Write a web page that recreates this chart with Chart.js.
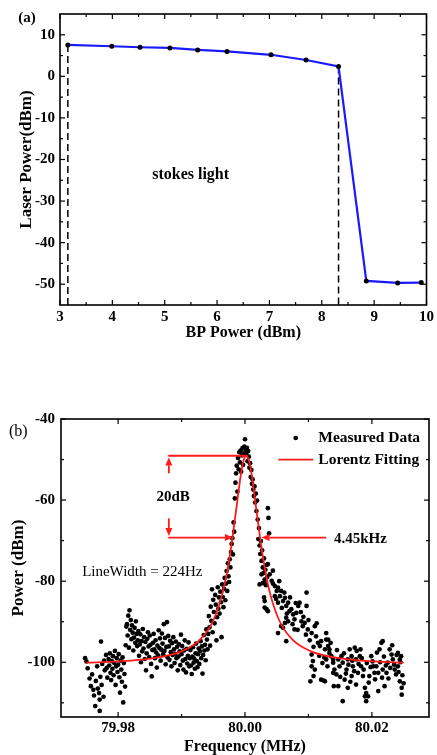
<!DOCTYPE html>
<html>
<head>
<meta charset="utf-8">
<script src="https://cdn.jsdelivr.net/npm/chart.js@4.4.0/dist/chart.umd.min.js"></script>
<style>
  html, body { margin: 0; padding: 0; background: #fff; }
  body { width: 437px; height: 755px; position: relative; overflow: hidden; }
  canvas { position: absolute; left: 0; }
  #graficoA { top: 0; }
  #graficoB { top: 380px; }
</style>
</head>
<body>
<canvas id="graficoA" width="437" height="345"></canvas>
<canvas id="graficoB" width="437" height="375"></canvas>
<script>
// ---------- dados painel (a)
const bpPower = [3.15, 3.99, 4.53, 5.10, 5.63, 6.19, 7.03, 7.70, 8.32, 8.85, 9.45, 9.90];
const laserPower = [7.55, 7.24, 7.0, 6.84, 6.37, 5.99, 5.19, 3.94, 2.36, -49.2, -49.7, -49.6];
const limiares = [3.15, 8.32]; // linhas tracejadas
const ticksXa = [3, 4, 5, 6, 7, 8, 9, 10];
const ticksYa = [10, 0, -10, -20, -30, -40, -50];
const minorXa = [3.5, 4.5, 5.5, 6.5, 7.5, 8.5, 9.5];
const minorYa = [5, -5, -15, -25, -35, -45];

// ---------- dados painel (b)
const ticksXb = [79.98, 80.00, 80.02];
const ticksYb = [-40, -60, -80, -100];
const minorXb = [79.99, 80.01];
const minorYb = [-50, -70, -90, -110];

// curva de Lorentz
const fitFreq = [79.975, 79.980, 79.985, 79.990, 79.993, 79.995, 79.9965, 79.9975, 79.9985, 79.9993, 79.9997,
  80.0002, 80.0007, 80.0011, 80.0019, 80.0029, 80.0039, 80.0054, 80.0074, 80.0104, 80.0154, 80.0204, 80.025];
const fitPot = [-100.1, -99.8, -99.1, -97.3, -94.3, -89.7, -82.7, -74.8, -63.7, -54.2, -50.7,
  -49.0, -50.7, -54.2, -63.7, -74.8, -82.7, -89.7, -94.3, -97.3, -99.1, -99.8, -100.1];

// pontos medidos [freq (MHz), potência (dBm)]
const pontosMedidos = [
  [79.9748,-99.0],[79.9750,-99.8],[79.9752,-101.5],[79.9755,-104.0],[79.9757,-105.9],[79.9759,-103.0],
  [79.9761,-106.8],[79.9762,-108.2],[79.9764,-110.8],[79.9765,-104.6],[79.9767,-101.0],[79.9768,-106.5],
  [79.9770,-107.6],[79.9771,-112.0],[79.9772,-103.6],[79.9773,-94.9],[79.9774,-105.6],[79.9775,-100.4],
  [79.9777,-108.5],[79.9778,-99.6],[79.9779,-102.0],[79.9771,-109.2],
  [79.9781,-98.2],[79.9782,-101.4],[79.9783,-103.8],[79.9785,-99.2],[79.9786,-100.8],[79.9787,-97.8],
  [79.9788,-102.6],[79.9789,-104.4],[79.9790,-99.7],[79.9791,-101.6],[79.9792,-98.5],[79.9793,-103.2],
  [79.9794,-100.2],[79.9795,-97.2],[79.9796,-105.6],[79.9797,-101.0],[79.9798,-99.0],[79.9799,-102.4],
  [79.9800,-100.6],[79.9801,-98.0],[79.9802,-103.7],[79.9803,-107.5],[79.9804,-99.6],[79.9805,-101.8],
  [79.9806,-104.8],[79.9807,-98.8],[79.9808,-109.9],[79.9809,-100.2],[79.9810,-102.9],[79.9811,-106.0],
  [79.9812,-95.8],[79.9813,-91.2],[79.9814,-90.6],[79.9815,-93.4],[79.9816,-88.5],[79.9817,-96.4],
  [79.9818,-87.2],[79.9819,-92.0],[79.9820,-89.6],[79.9821,-94.3],[79.9822,-90.9],[79.9823,-92.7],
  [79.9824,-97.1],[79.9825,-93.9],[79.9826,-91.5],[79.9827,-95.2],[79.9828,-89.9],[79.9829,-93.0],
  [79.9830,-96.0],[79.9831,-94.6],[79.9832,-92.3],[79.9833,-98.4],[79.9834,-95.6],[79.9835,-93.1],
  [79.9836,-100.0],[79.9837,-94.8],[79.9838,-97.3],[79.9839,-91.8],[79.9840,-96.6],[79.9841,-93.8],
  [79.9842,-99.2],[79.9843,-95.0],[79.9844,-102.0],[79.9845,-97.8],[79.9846,-94.2],[79.9847,-92.6],
  [79.9848,-96.1],[79.9849,-98.7],[79.9850,-93.4],[79.9851,-95.7],[79.9852,-100.4],[79.9853,-103.5],
  [79.9854,-97.0],[79.9855,-95.2],[79.9856,-93.0],[79.9857,-96.8],[79.9858,-99.0],[79.9859,-94.6],
  [79.9860,-97.6],[79.9861,-101.3],[79.9862,-95.9],[79.9863,-98.3],[79.9864,-92.1],[79.9865,-96.5],
  [79.9866,-94.1],[79.9867,-99.6],[79.9868,-96.9],[79.9869,-92.9],[79.9870,-95.4],[79.9871,-98.0],
  [79.9872,-90.6],[79.9873,-97.2],[79.9874,-94.0],[79.9875,-100.5],[79.9876,-96.2],[79.9877,-90.1],
  [79.9878,-98.8],[79.9879,-93.5],
  [79.9880,-96.1],[79.9881,-99.4],[79.9882,-94.7],[79.9883,-97.5],[79.9884,-101.0],[79.9885,-95.3],
  [79.9886,-98.2],[79.9887,-93.8],[79.9888,-96.8],[79.9889,-100.2],[79.9890,-97.9],[79.9891,-94.9],
  [79.9892,-99.0],[79.9893,-96.2],[79.9894,-102.0],[79.9895,-98.6],[79.9896,-95.6],[79.9897,-97.3],
  [79.9898,-100.7],[79.9899,-93.2],[79.9900,-98.0],[79.9901,-96.0],[79.9902,-99.6],[79.9903,-101.8],
  [79.9904,-97.1],[79.9905,-94.6],[79.9906,-99.2],[79.9907,-102.5],[79.9908,-96.7],[79.9909,-100.3],
  [79.9910,-98.4],[79.9911,-95.1],[79.9912,-101.0],[79.9913,-99.0],[79.9914,-97.0],[79.9915,-100.8],
  [79.9916,-102.9],[79.9917,-98.6],[79.9918,-96.3],[79.9919,-100.1],[79.9920,-99.1],[79.9921,-101.6],
  [79.9922,-97.8],[79.9923,-95.4],[79.9924,-99.7],[79.9925,-101.2],[79.9926,-98.0],[79.9927,-96.6],
  [79.9928,-100.4],[79.9929,-97.3],[79.9930,-94.8],[79.9931,-99.0],[79.9932,-96.1],[79.9933,-102.8],
  [79.9934,-98.2],[79.9935,-93.3],[79.9936,-97.1],[79.9937,-95.7],[79.9938,-99.5],[79.9939,-91.9],
  [79.9940,-94.4],[79.9941,-96.8],
  [79.9942,-93.0],[79.9943,-88.6],[79.9944,-91.4],[79.9945,-95.9],[79.9946,-86.3],[79.9947,-89.8],
  [79.9948,-82.0],[79.9949,-92.6],[79.9950,-84.6],[79.9951,-87.6],[79.9952,-90.4],[79.9953,-83.4],
  [79.9954,-85.8],[79.9955,-94.6],[79.9956,-88.9],[79.9957,-81.5],[79.9958,-86.8],[79.9959,-84.0],
  [79.9960,-88.0],[79.9961,-82.6],[79.9962,-85.2],[79.9963,-93.8],[79.9964,-80.8],[79.9965,-83.9],
  [79.9966,-86.4],[79.9967,-81.9],[79.9968,-79.2],[79.9969,-84.7],[79.9970,-80.6],[79.9971,-77.5],
  [79.9972,-82.4],[79.9973,-75.6],
  [79.9974,-78.8],[79.9975,-80.2],[79.9976,-74.6],[79.9977,-76.6],[79.9978,-72.8],[79.9979,-70.8],
  [79.9980,-69.4],[79.9981,-73.4],[79.9982,-65.5],[79.9983,-67.8],
  [79.9984,-59.6],[79.9985,-55.7],[79.9986,-53.4],[79.9987,-51.5],[79.9988,-57.9],[79.9989,-49.6],
  [79.9990,-52.4],[79.9991,-48.2],[79.9992,-50.7],[79.9993,-47.8],[79.9994,-53.0],[79.9995,-49.0],
  [79.9996,-47.2],[79.9997,-51.3],[79.9998,-48.5],[79.9999,-46.8],[80.0000,-45.0],[80.0001,-47.6],
  [80.0002,-48.6],[80.0003,-47.1],[80.0004,-50.4],[80.0005,-47.9],[80.0006,-49.3],[80.0007,-52.0],
  [80.0008,-50.9],[80.0009,-54.3],[80.0010,-52.6],[80.0011,-56.0],[80.0012,-54.9],[80.0013,-57.4],
  [80.0014,-59.0],[80.0015,-56.6],[80.0016,-60.6],[80.0017,-58.4],[80.0018,-62.7],[80.0019,-60.1],
  [80.0020,-64.8],[80.0021,-69.6],[80.0022,-66.9],[80.0023,-71.2],[80.0024,-73.3],[80.0025,-70.1],
  [80.0026,-75.0],[80.0027,-72.4],[80.0028,-76.6],[80.0029,-78.0],[80.0030,-74.4],[80.0031,-79.6],
  [80.0032,-77.2],[80.0033,-81.0],[80.0034,-76.0],[80.0036,-62.0],[80.0037,-64.4],[80.0038,-68.2],
  [80.0035,-79.0],
  [80.0023,-80.8],[80.0026,-78.3],[80.0031,-80.4],[80.0036,-75.8],[80.0039,-78.3],[80.0042,-79.9],
  [80.0047,-81.2],[80.0050,-82.4],[80.0052,-81.6],[80.0055,-83.7],[80.0057,-82.4],[80.0060,-84.9],
  [80.0063,-84.1],[80.0065,-86.1],[80.0068,-85.3],[80.0070,-87.4],[80.0073,-86.9],[80.0076,-88.2],
  [80.0078,-89.4],[80.0081,-87.8],[80.0084,-86.1],[80.0086,-85.3],[80.0089,-89.9],[80.0091,-91.1],
  [80.0094,-90.3],[80.0097,-82.8],[80.0097,-86.1],[80.0099,-91.9],[80.0105,-92.8],[80.0110,-91.1],
  [80.0112,-93.6],[80.0115,-95.2],[80.0118,-96.0],[80.0120,-94.8],[80.0126,-96.8],[80.0128,-94.4],
  [80.0131,-96.0],[80.0133,-97.7],[80.0136,-98.5],[80.0139,-99.3],[80.0105,-98.1],[80.0107,-99.7],
  [80.0110,-101.8],[80.0105,-101.0],[80.0120,-104.3],[80.0124,-104.5],[80.0139,-102.6],[80.0140,-105.9],
  [80.0031,-84.9],[80.0034,-86.9],[80.0036,-87.4],[80.0057,-91.1],[80.0060,-91.5],[80.0068,-89.9],
  [80.0065,-89.0],[80.0078,-91.9],[80.0063,-90.3],[80.0047,-83.7],[80.0052,-85.3],
  [80.0044,-80.6],[80.0049,-84.4],[80.0054,-80.0],[80.0058,-86.6],[80.0062,-82.8],[80.0066,-88.0],
  [80.0071,-84.0],[80.0075,-90.6],[80.0080,-85.4],[80.0083,-92.0],[80.0088,-87.6],[80.0092,-88.8],
  [80.0096,-93.2],[80.0100,-89.6],[80.0102,-94.6],[80.0108,-96.2],[80.0113,-90.4],[80.0117,-98.4],
  [80.0122,-100.2],[80.0125,-98.8],[80.0130,-101.0],[80.0135,-95.2],[80.0103,-104.7],[80.0108,-103.4],
  [80.0028,-80.5],[80.0030,-84.0],[80.0031,-86.5],[80.0044,-77.4],[80.0052,-92.8],[80.0065,-94.8],
  [80.0128,-92.8],[80.0131,-94.4],[80.0133,-96.8],[80.0128,-99.3],[80.0126,-104.7],[80.0136,-98.5],
  [80.0139,-100.1],[80.0141,-101.8],[80.0144,-103.0],[80.0147,-99.3],[80.0149,-101.0],[80.0147,-105.9],
  [80.0152,-98.5],[80.0154,-100.1],[80.0154,-109.6],[80.0157,-104.3],[80.0160,-101.8],[80.0162,-99.3],
  [80.0162,-106.3],[80.0165,-96.8],[80.0168,-98.5],[80.0170,-101.0],[80.0168,-103.4],[80.0173,-96.4],
  [80.0175,-99.3],[80.0175,-105.5],[80.0178,-102.6],[80.0181,-98.5],[80.0182,-96.8],[80.0183,-101.0],
  [80.0186,-103.4],[80.0189,-106.3],[80.0189,-108.4],[80.0191,-107.6],[80.0191,-109.6],[80.0194,-108.4],
  [80.0196,-103.4],[80.0199,-98.5],[80.0202,-101.0],[80.0204,-102.6],[80.0207,-101.0],[80.0210,-107.1],
  [80.0210,-102.6],[80.0212,-96.8],[80.0215,-95.2],[80.0217,-94.8],[80.0217,-101.8],[80.0220,-105.9],
  [80.0223,-102.6],[80.0225,-100.1],[80.0228,-96.8],[80.0231,-98.1],[80.0233,-99.3],[80.0236,-101.8],
  [80.0238,-103.0],[80.0241,-97.7],[80.0244,-99.3],[80.0244,-104.7],[80.0246,-98.5],[80.0247,-106.3],
  [80.0247,-108.0],[80.0241,-101.0],
  [80.0145,-97.0],[80.0150,-103.6],[80.0156,-97.8],[80.0159,-102.8],[80.0163,-100.6],[80.0166,-104.8],
  [80.0169,-99.6],[80.0172,-102.2],[80.0176,-97.2],[80.0179,-100.4],[80.0184,-99.0],[80.0187,-101.8],
  [80.0192,-100.2],[80.0195,-105.0],[80.0198,-101.2],[80.0201,-99.8],[80.0205,-104.2],[80.0208,-97.6],
  [80.0213,-100.0],[80.0216,-103.8],[80.0219,-98.6],[80.0222,-100.8],[80.0226,-104.0],[80.0229,-101.4],
  [80.0232,-95.8],[80.0235,-100.6],[80.0239,-98.2],[80.0242,-102.4],[80.0245,-100.0],[80.0248,-103.2],
  [80.0250,-105.2]
];

const FONTE = "Liberation Serif";
Chart.defaults.font.family = FONTE;
Chart.defaults.color = "#000";

// moldura com ticks para dentro nos 4 lados
function moldura(chart, menorX, menorY) {
  const { ctx, chartArea: a, scales: { x, y } } = chart;
  ctx.save();
  ctx.strokeStyle = "#000";
  ctx.lineWidth = 1.2;
  const linha = (x0, y0, x1, y1) => { ctx.beginPath(); ctx.moveTo(x0, y0); ctx.lineTo(x1, y1); ctx.stroke(); };
  const marcaX = (v, len) => {
    const px = x.getPixelForValue(v);
    linha(px, a.bottom, px, a.bottom - len);
    linha(px, a.top, px, a.top + len);
  };
  const marcaY = (v, len) => {
    const py = y.getPixelForValue(v);
    linha(a.left, py, a.left + len, py);
    linha(a.right, py, a.right - len, py);
  };
  x.ticks.forEach(t => marcaX(t.value, 5));
  y.ticks.forEach(t => marcaY(t.value, 5));
  menorX.forEach(v => marcaX(v, 3));
  menorY.forEach(v => marcaY(v, 3));
  ctx.lineWidth = 1.6;
  ctx.strokeRect(a.left, a.top, a.width, a.height);
  ctx.restore();
}

function seta(ctx, x0, y0, x1, y1) {
  const ang = Math.atan2(y1 - y0, x1 - x0);
  const L = 8, W = 3.5;
  const c = Math.cos(ang), s = Math.sin(ang);
  ctx.beginPath(); ctx.moveTo(x0, y0); ctx.lineTo(x1 - L * c, y1 - L * s); ctx.stroke();
  ctx.beginPath();
  ctx.moveTo(x1, y1);
  ctx.lineTo(x1 - L * c + W * s, y1 - L * s - W * c);
  ctx.lineTo(x1 - L * c - W * s, y1 - L * s + W * c);
  ctx.closePath(); ctx.fill();
}

function fixarTicks(valores) {
  return (scale) => { scale.ticks = valores.map(v => ({ value: v })); };
}

// ///////////////////// Painel (a)
const ctxA = document.getElementById("graficoA").getContext("2d");
new Chart(ctxA, {
  type: "line",
  data: {
    datasets: [
      {
        data: bpPower.map((v, i) => ({ x: v, y: laserPower[i] })),
        borderColor: "#1a1aff",
        borderWidth: 2.2,
        pointRadius: 2.5,
        pointBackgroundColor: "#000",
        pointBorderColor: "#000",
        pointBorderWidth: 0,
        tension: 0,
        order: 0,
      },
      ...limiares.map((lx) => ({
        data: [{ x: lx, y: laserPower[bpPower.indexOf(lx)] }, { x: lx, y: -55 }],
        borderColor: "#000",
        borderWidth: 1.5,
        borderDash: [7, 4],
        pointRadius: 0,
        order: 1,
      })),
    ],
  },
  options: {
    responsive: false,
    animation: false,
    devicePixelRatio: 1,
    layout: { padding: { top: 7, right: 9, left: 0, bottom: 0 } },
    plugins: { legend: { display: false }, tooltip: { enabled: false } },
    scales: {
      x: {
        type: "linear",
        min: 3,
        max: 10,
        afterBuildTicks: fixarTicks(ticksXa),
        afterFit: (s) => { s.height = 40; },
        grid: { display: false, drawTicks: false },
        border: { display: false },
        ticks: { padding: 3, font: { size: 15, weight: "bold" }, callback: (v) => String(v), maxRotation: 0 },
        title: { display: true, text: "BP Power (dBm)", font: { size: 16, weight: "bold", lineHeight: 1 }, padding: { top: 0, bottom: 4 } },
      },
      y: {
        type: "linear",
        min: -55,
        max: 15,
        afterBuildTicks: fixarTicks(ticksYa),
        afterFit: (s) => { s.width = 60; },
        grid: { display: false, drawTicks: false },
        border: { display: false },
        ticks: { padding: 5, font: { size: 15, weight: "bold" }, callback: (v) => String(v) },
        title: { display: true, text: "Laser Power(dBm)", font: { size: 17, weight: "bold", lineHeight: 1 }, padding: { top: 18, bottom: 0 } },
      },
    },
  },
  plugins: [{
    id: "molduraA",
    afterDraw(chart) {
      moldura(chart, minorXa, minorYa);
      const { ctx, scales: { x, y } } = chart;
      ctx.save();
      ctx.fillStyle = "#000";
      ctx.textAlign = "center";
      ctx.textBaseline = "middle";
      ctx.font = `bold 16px "${FONTE}"`;
      ctx.fillText("stokes light", x.getPixelForValue(5.495), y.getPixelForValue(-23.6));
      ctx.font = `bold 15px "${FONTE}"`;
      ctx.fillText("(a)", 27, 18);
      ctx.restore();
    },
  }],
});

// ///////////////////// Painel (b)
const ctxB = document.getElementById("graficoB").getContext("2d");
new Chart(ctxB, {
  type: "scatter",
  data: {
    datasets: [
      {
        label: "Lorentz Fitting",
        type: "line",
        data: fitFreq.map((v, i) => ({ x: v, y: fitPot[i] })),
        borderColor: "#ff1a1a",
        borderWidth: 1.8,
        pointRadius: 0,
        cubicInterpolationMode: "monotone",
        order: 0,
      },
      {
        label: "Measured Data",
        data: pontosMedidos.map(([f, p]) => ({ x: f, y: p })),
        backgroundColor: "#000",
        borderWidth: 0,
        pointRadius: 2.35,
        order: 1,
      },
    ],
  },
  options: {
    responsive: false,
    animation: false,
    devicePixelRatio: 1,
    layout: { padding: { top: 39, right: 8, left: 0, bottom: 0 } },
    plugins: { legend: { display: false }, tooltip: { enabled: false } },
    scales: {
      x: {
        type: "linear",
        min: 79.971,
        max: 80.029,
        afterBuildTicks: fixarTicks(ticksXb),
        afterFit: (s) => { s.height = 38; },
        grid: { display: false, drawTicks: false },
        border: { display: false },
        ticks: { padding: 2, font: { size: 15, weight: "bold" }, callback: (v) => v.toFixed(2), maxRotation: 0 },
        title: { display: true, text: "Frequency (MHz)", font: { size: 16, weight: "bold", lineHeight: 1 }, padding: { top: 0, bottom: 0 } },
      },
      y: {
        type: "linear",
        min: -113.5,
        max: -40,
        afterBuildTicks: fixarTicks(ticksYb),
        afterFit: (s) => { s.width = 61; },
        grid: { display: false, drawTicks: false },
        border: { display: false },
        ticks: { padding: 6, font: { size: 15, weight: "bold" }, callback: (v) => String(v) },
        title: { display: true, text: "Power (dBm)", font: { size: 17, weight: "bold", lineHeight: 1 }, padding: { top: 10, bottom: 0 } },
      },
    },
  },
  plugins: [{
    id: "anotacoesB",
    afterDraw(chart) {
      moldura(chart, minorXb, minorYb);
      const { ctx, chartArea: a, scales: { x, y } } = chart;
      const X = (v) => x.getPixelForValue(v);
      const Y = (v) => y.getPixelForValue(v);
      ctx.save();
      // anotações em vermelho
      ctx.strokeStyle = "#ff1a1a";
      ctx.fillStyle = "#ff1a1a";
      ctx.lineWidth = 1.8;
      ctx.beginPath();
      ctx.moveTo(X(79.9879), Y(-49.07));
      ctx.lineTo(X(80.0000), Y(-49.07));
      ctx.stroke();
      seta(ctx, X(79.9879), Y(-69.25), X(79.9981), Y(-69.25));
      seta(ctx, X(80.0128), Y(-69.25), X(80.0026), Y(-69.25));
      seta(ctx, X(79.9880), Y(-53.4), X(79.9880), Y(-49.5));
      seta(ctx, X(79.9880), Y(-64.5), X(79.9880), Y(-68.85));

      ctx.fillStyle = "#000";
      ctx.textBaseline = "middle";
      ctx.font = `bold 15px "${FONTE}"`;
      ctx.textAlign = "center";
      ctx.fillText("20dB", X(79.98866), Y(-59.35));
      ctx.textAlign = "left";
      ctx.fillText("4.45kHz", X(80.01402), Y(-69.67));
      ctx.font = `15px "${FONTE}"`;
      ctx.fillText("LineWidth = 224Hz", X(79.97433), Y(-77.75));
      ctx.font = `16px "${FONTE}"`;
      ctx.textAlign = "center";
      ctx.fillText("(b)", 18.3, 51.7);

      // legenda
      ctx.beginPath();
      ctx.arc(a.right - 133.3, a.top + 19, 2.35, 0, Math.PI * 2);
      ctx.fill();
      ctx.strokeStyle = "#ff1a1a";
      ctx.beginPath();
      ctx.moveTo(a.right - 150.7, a.top + 40.7);
      ctx.lineTo(a.right - 115.7, a.top + 40.7);
      ctx.stroke();
      ctx.textAlign = "left";
      ctx.font = `bold 15.5px "${FONTE}"`;
      ctx.fillText("Measured Data", a.right - 110.7, a.top + 19);
      ctx.fillText("Lorentz Fitting", a.right - 110.7, a.top + 40.7);
      ctx.restore();
    },
  }],
});
</script>
</body>
</html>
